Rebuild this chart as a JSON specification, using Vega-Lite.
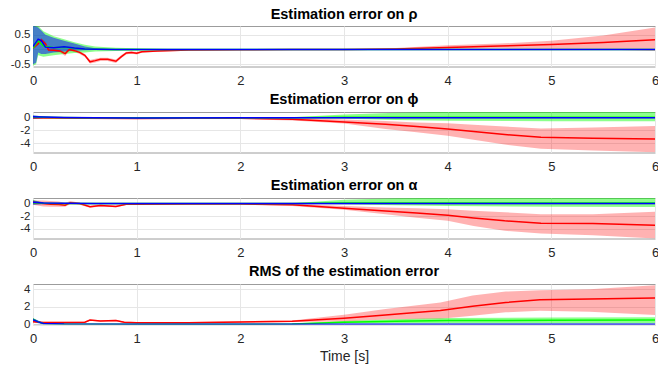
{
  "$schema": "https://vega.github.io/schema/vega-lite/v6.json",
  "padding": {"left": 2, "top": 6, "right": 0, "bottom": 0},
  "bounds": "flush",
  "spacing": 45,
  "config": {
    "font": "Liberation Sans",
    "view": {"stroke": "#9c9c9c", "strokeWidth": 1},
    "axis": {
      "labelFont": "Liberation Sans",
      "labelFontSize": 13,
      "labelColor": "#262626",
      "labelOverlap": false,
      "grid": true,
      "gridColor": "#e6e6e6",
      "domain": false,
      "ticks": false
    },
    "axisX": {"labelPadding": 8, "labelFlush": false, "titleFont": "Liberation Sans", "titleFontSize": 14, "titleFontWeight": "normal", "titleColor": "#262626", "titlePadding": 4},
    "axisY": {"labelPadding": 3, "labelFontSize": 11.5, "tickCount": 6, "minExtent": 30, "maxExtent": 30, "labelExpr": "toString(datum.value)"},
    "title": {"font": "Liberation Sans", "fontSize": 14.5, "fontWeight": "bold", "color": "#000000", "offset": 4, "anchor": "middle"},
    "line": {"strokeWidth": 1.5}
  },
  "datasets": {
    "err": [
      {"p": "rho", "s": "r", "t": 0, "m": 0.05, "lo": 0.0, "hi": 0.1},
      {"p": "rho", "s": "r", "t": 0.05, "m": 0.2, "lo": 0.14, "hi": 0.26},
      {"p": "rho", "s": "r", "t": 0.08, "m": 0.33, "lo": 0.27, "hi": 0.39},
      {"p": "rho", "s": "r", "t": 0.12, "m": 0.2, "lo": 0.14, "hi": 0.26},
      {"p": "rho", "s": "r", "t": 0.15, "m": -0.02, "lo": -0.07, "hi": 0.03},
      {"p": "rho", "s": "r", "t": 0.2, "m": -0.03, "lo": -0.08, "hi": 0.02},
      {"p": "rho", "s": "r", "t": 0.26, "m": -0.05, "lo": -0.1, "hi": 0.0},
      {"p": "rho", "s": "r", "t": 0.31, "m": -0.14, "lo": -0.22, "hi": -0.08},
      {"p": "rho", "s": "r", "t": 0.35, "m": 0.0, "lo": -0.05, "hi": 0.05},
      {"p": "rho", "s": "r", "t": 0.4, "m": -0.04, "lo": -0.09, "hi": 0.01},
      {"p": "rho", "s": "r", "t": 0.45, "m": -0.1, "lo": -0.15, "hi": -0.05},
      {"p": "rho", "s": "r", "t": 0.5, "m": -0.2, "lo": -0.26, "hi": -0.15},
      {"p": "rho", "s": "r", "t": 0.55, "m": -0.42, "lo": -0.48, "hi": -0.36},
      {"p": "rho", "s": "r", "t": 0.6, "m": -0.38, "lo": -0.44, "hi": -0.32},
      {"p": "rho", "s": "r", "t": 0.65, "m": -0.33, "lo": -0.39, "hi": -0.28},
      {"p": "rho", "s": "r", "t": 0.72, "m": -0.33, "lo": -0.39, "hi": -0.28},
      {"p": "rho", "s": "r", "t": 0.8, "m": -0.4, "lo": -0.46, "hi": -0.34},
      {"p": "rho", "s": "r", "t": 0.85, "m": -0.25, "lo": -0.3, "hi": -0.2},
      {"p": "rho", "s": "r", "t": 0.9, "m": -0.12, "lo": -0.17, "hi": -0.08},
      {"p": "rho", "s": "r", "t": 0.95, "m": -0.1, "lo": -0.14, "hi": -0.06},
      {"p": "rho", "s": "r", "t": 1.0, "m": -0.13, "lo": -0.17, "hi": -0.09},
      {"p": "rho", "s": "r", "t": 1.05, "m": -0.08, "lo": -0.11, "hi": -0.05},
      {"p": "rho", "s": "r", "t": 1.2, "m": -0.05, "lo": -0.08, "hi": -0.03},
      {"p": "rho", "s": "r", "t": 1.5, "m": -0.02, "lo": -0.04, "hi": 0.0},
      {"p": "rho", "s": "r", "t": 2, "m": -0.01, "lo": -0.02, "hi": 0.0},
      {"p": "rho", "s": "r", "t": 2.5, "m": 0, "lo": -0.01, "hi": 0.01},
      {"p": "rho", "s": "r", "t": 3, "m": 0, "lo": -0.01, "hi": 0.01},
      {"p": "rho", "s": "r", "t": 3.5, "m": 0.02, "lo": 0.0, "hi": 0.05},
      {"p": "rho", "s": "r", "t": 4, "m": 0.07, "lo": 0.02, "hi": 0.14},
      {"p": "rho", "s": "r", "t": 4.5, "m": 0.12, "lo": 0.03, "hi": 0.2},
      {"p": "rho", "s": "r", "t": 5, "m": 0.17, "lo": 0.02, "hi": 0.3},
      {"p": "rho", "s": "r", "t": 5.5, "m": 0.24, "lo": 0.0, "hi": 0.48},
      {"p": "rho", "s": "r", "t": 6, "m": 0.33, "lo": -0.05, "hi": 0.75},

      {"p": "rho", "s": "g", "t": 0, "m": 0.05, "lo": -0.55, "hi": 0.8},
      {"p": "rho", "s": "g", "t": 0.03, "m": 0.2, "lo": -0.5, "hi": 0.8},
      {"p": "rho", "s": "g", "t": 0.05, "m": 0.3, "lo": -0.2, "hi": 0.8},
      {"p": "rho", "s": "g", "t": 0.1, "m": 0.12, "lo": -0.25, "hi": 0.62},
      {"p": "rho", "s": "g", "t": 0.2, "m": 0.06, "lo": -0.2, "hi": 0.45},
      {"p": "rho", "s": "g", "t": 0.3, "m": 0.08, "lo": -0.15, "hi": 0.35},
      {"p": "rho", "s": "g", "t": 0.4, "m": 0.04, "lo": -0.12, "hi": 0.25},
      {"p": "rho", "s": "g", "t": 0.5, "m": 0.02, "lo": -0.1, "hi": 0.16},
      {"p": "rho", "s": "g", "t": 0.6, "m": 0.01, "lo": -0.07, "hi": 0.1},
      {"p": "rho", "s": "g", "t": 0.8, "m": 0.0, "lo": -0.05, "hi": 0.06},
      {"p": "rho", "s": "g", "t": 1.0, "m": 0, "lo": -0.04, "hi": 0.04},
      {"p": "rho", "s": "g", "t": 1.3, "m": 0, "lo": -0.02, "hi": 0.02},
      {"p": "rho", "s": "g", "t": 1.6, "m": 0, "lo": -0.01, "hi": 0.01},
      {"p": "rho", "s": "g", "t": 2, "m": 0, "lo": -0.005, "hi": 0.005},
      {"p": "rho", "s": "g", "t": 6, "m": 0, "lo": -0.005, "hi": 0.005},

      {"p": "rho", "s": "b", "t": 0, "m": 0.1, "lo": -0.5, "hi": 0.8},
      {"p": "rho", "s": "b", "t": 0.03, "m": 0.25, "lo": -0.45, "hi": 0.78},
      {"p": "rho", "s": "b", "t": 0.05, "m": 0.35, "lo": -0.1, "hi": 0.75},
      {"p": "rho", "s": "b", "t": 0.08, "m": 0.3, "lo": -0.15, "hi": 0.65},
      {"p": "rho", "s": "b", "t": 0.12, "m": 0.08, "lo": -0.15, "hi": 0.5},
      {"p": "rho", "s": "b", "t": 0.2, "m": 0.06, "lo": -0.1, "hi": 0.4},
      {"p": "rho", "s": "b", "t": 0.3, "m": 0.09, "lo": -0.07, "hi": 0.3},
      {"p": "rho", "s": "b", "t": 0.4, "m": 0.05, "lo": -0.04, "hi": 0.2},
      {"p": "rho", "s": "b", "t": 0.5, "m": 0.02, "lo": -0.03, "hi": 0.1},
      {"p": "rho", "s": "b", "t": 0.6, "m": 0.01, "lo": -0.02, "hi": 0.04},
      {"p": "rho", "s": "b", "t": 0.8, "m": 0, "lo": -0.01, "hi": 0.01},
      {"p": "rho", "s": "b", "t": 6, "m": 0, "lo": -0.005, "hi": 0.005},

      {"p": "phi", "s": "r", "t": 0, "m": 0, "lo": -0.1, "hi": 0.1},
      {"p": "phi", "s": "r", "t": 0.5, "m": -0.1, "lo": -0.18, "hi": -0.02},
      {"p": "phi", "s": "r", "t": 1, "m": -0.12, "lo": -0.2, "hi": -0.04},
      {"p": "phi", "s": "r", "t": 1.5, "m": -0.1, "lo": -0.18, "hi": -0.03},
      {"p": "phi", "s": "r", "t": 2, "m": -0.1, "lo": -0.2, "hi": -0.02},
      {"p": "phi", "s": "r", "t": 2.5, "m": -0.25, "lo": -0.45, "hi": -0.06},
      {"p": "phi", "s": "r", "t": 3, "m": -0.67, "lo": -0.92, "hi": -0.3},
      {"p": "phi", "s": "r", "t": 3.4, "m": -1.04, "lo": -1.8, "hi": -0.52},
      {"p": "phi", "s": "r", "t": 3.7, "m": -1.4, "lo": -2.3, "hi": -0.75},
      {"p": "phi", "s": "r", "t": 4, "m": -1.8, "lo": -2.85, "hi": -0.88},
      {"p": "phi", "s": "r", "t": 4.25, "m": -2.2, "lo": -3.5, "hi": -1.1},
      {"p": "phi", "s": "r", "t": 4.55, "m": -2.65, "lo": -4.25, "hi": -1.4},
      {"p": "phi", "s": "r", "t": 4.9, "m": -3.1, "lo": -4.9, "hi": -1.7},
      {"p": "phi", "s": "r", "t": 5.4, "m": -3.23, "lo": -5.2, "hi": -1.56},
      {"p": "phi", "s": "r", "t": 6, "m": -3.38, "lo": -5.47, "hi": -1.3},

      {"p": "phi", "s": "g", "t": 0, "m": 0.1, "lo": -0.15, "hi": 0.35},
      {"p": "phi", "s": "g", "t": 0.2, "m": 0.02, "lo": -0.05, "hi": 0.08},
      {"p": "phi", "s": "g", "t": 0.5, "m": 0, "lo": -0.03, "hi": 0.03},
      {"p": "phi", "s": "g", "t": 2, "m": 0, "lo": -0.03, "hi": 0.03},
      {"p": "phi", "s": "g", "t": 2.5, "m": 0.01, "lo": -0.03, "hi": 0.06},
      {"p": "phi", "s": "g", "t": 3, "m": 0.08, "lo": -0.15, "hi": 0.5},
      {"p": "phi", "s": "g", "t": 3.5, "m": 0.08, "lo": -0.35, "hi": 0.8},
      {"p": "phi", "s": "g", "t": 4, "m": 0.08, "lo": -0.5, "hi": 0.95},
      {"p": "phi", "s": "g", "t": 5, "m": 0.08, "lo": -0.55, "hi": 0.95},
      {"p": "phi", "s": "g", "t": 6, "m": 0.08, "lo": -0.56, "hi": 0.95},

      {"p": "phi", "s": "b", "t": 0, "m": 0.15, "lo": -0.2, "hi": 0.4},
      {"p": "phi", "s": "b", "t": 0.1, "m": 0.1, "lo": -0.05, "hi": 0.2},
      {"p": "phi", "s": "b", "t": 0.3, "m": 0.05, "lo": -0.02, "hi": 0.1},
      {"p": "phi", "s": "b", "t": 0.6, "m": 0.0, "lo": -0.03, "hi": 0.03},
      {"p": "phi", "s": "b", "t": 1, "m": -0.03, "lo": -0.05, "hi": 0.0},
      {"p": "phi", "s": "b", "t": 2, "m": 0, "lo": -0.02, "hi": 0.02},
      {"p": "phi", "s": "b", "t": 6, "m": 0, "lo": -0.02, "hi": 0.02},

      {"p": "alpha", "s": "r", "t": 0, "m": 0.2, "lo": -0.2, "hi": 0.5},
      {"p": "alpha", "s": "r", "t": 0.1, "m": 0.0, "lo": -0.45, "hi": 0.5},
      {"p": "alpha", "s": "r", "t": 0.17, "m": -0.1, "lo": -0.5, "hi": 0.4},
      {"p": "alpha", "s": "r", "t": 0.25, "m": -0.15, "lo": -0.5, "hi": 0.35},
      {"p": "alpha", "s": "r", "t": 0.31, "m": -0.25, "lo": -0.5, "hi": 0.1},
      {"p": "alpha", "s": "r", "t": 0.36, "m": 0.15, "lo": -0.1, "hi": 0.4},
      {"p": "alpha", "s": "r", "t": 0.45, "m": 0.0, "lo": -0.2, "hi": 0.15},
      {"p": "alpha", "s": "r", "t": 0.55, "m": -0.5, "lo": -0.65, "hi": -0.35},
      {"p": "alpha", "s": "r", "t": 0.65, "m": -0.3, "lo": -0.45, "hi": -0.15},
      {"p": "alpha", "s": "r", "t": 0.8, "m": -0.45, "lo": -0.6, "hi": -0.3},
      {"p": "alpha", "s": "r", "t": 0.9, "m": -0.1, "lo": -0.2, "hi": 0.0},
      {"p": "alpha", "s": "r", "t": 1.0, "m": -0.1, "lo": -0.18, "hi": -0.02},
      {"p": "alpha", "s": "r", "t": 1.5, "m": -0.05, "lo": -0.12, "hi": 0.0},
      {"p": "alpha", "s": "r", "t": 2, "m": -0.05, "lo": -0.12, "hi": 0.0},
      {"p": "alpha", "s": "r", "t": 2.5, "m": -0.2, "lo": -0.4, "hi": -0.02},
      {"p": "alpha", "s": "r", "t": 3, "m": -0.74, "lo": -1.0, "hi": -0.4},
      {"p": "alpha", "s": "r", "t": 3.4, "m": -1.17, "lo": -1.7, "hi": -0.64},
      {"p": "alpha", "s": "r", "t": 3.7, "m": -1.5, "lo": -2.25, "hi": -0.75},
      {"p": "alpha", "s": "r", "t": 4, "m": -1.86, "lo": -2.77, "hi": -0.9},
      {"p": "alpha", "s": "r", "t": 4.25, "m": -2.3, "lo": -3.6, "hi": -1.15},
      {"p": "alpha", "s": "r", "t": 4.55, "m": -2.77, "lo": -4.37, "hi": -1.4},
      {"p": "alpha", "s": "r", "t": 4.9, "m": -3.14, "lo": -4.8, "hi": -1.7},
      {"p": "alpha", "s": "r", "t": 5.4, "m": -3.2, "lo": -5.06, "hi": -1.7},
      {"p": "alpha", "s": "r", "t": 6, "m": -3.46, "lo": -5.6, "hi": -1.3},

      {"p": "alpha", "s": "g", "t": 0, "m": 0.15, "lo": -0.1, "hi": 0.6},
      {"p": "alpha", "s": "g", "t": 0.1, "m": 0.05, "lo": -0.05, "hi": 0.15},
      {"p": "alpha", "s": "g", "t": 0.3, "m": 0, "lo": -0.03, "hi": 0.03},
      {"p": "alpha", "s": "g", "t": 2, "m": 0, "lo": -0.03, "hi": 0.03},
      {"p": "alpha", "s": "g", "t": 2.5, "m": 0.01, "lo": -0.03, "hi": 0.06},
      {"p": "alpha", "s": "g", "t": 3, "m": 0.08, "lo": -0.1, "hi": 0.6},
      {"p": "alpha", "s": "g", "t": 3.5, "m": 0.08, "lo": -0.28, "hi": 0.85},
      {"p": "alpha", "s": "g", "t": 4, "m": 0.08, "lo": -0.4, "hi": 0.95},
      {"p": "alpha", "s": "g", "t": 5, "m": 0.08, "lo": -0.5, "hi": 0.95},
      {"p": "alpha", "s": "g", "t": 6, "m": 0.08, "lo": -0.55, "hi": 0.95},

      {"p": "alpha", "s": "b", "t": 0, "m": 0.2, "lo": -0.2, "hi": 0.5},
      {"p": "alpha", "s": "b", "t": 0.1, "m": 0.08, "lo": -0.05, "hi": 0.2},
      {"p": "alpha", "s": "b", "t": 0.3, "m": 0.05, "lo": 0.0, "hi": 0.1},
      {"p": "alpha", "s": "b", "t": 0.6, "m": 0.02, "lo": -0.02, "hi": 0.05},
      {"p": "alpha", "s": "b", "t": 1, "m": 0.0, "lo": -0.03, "hi": 0.03},
      {"p": "alpha", "s": "b", "t": 6, "m": 0.0, "lo": -0.02, "hi": 0.02},

      {"p": "rms", "s": "r", "t": 0, "m": 0.3, "lo": 0.22, "hi": 0.4},
      {"p": "rms", "s": "r", "t": 0.1, "m": 0.22, "lo": 0.15, "hi": 0.3},
      {"p": "rms", "s": "r", "t": 0.3, "m": 0.22, "lo": 0.15, "hi": 0.3},
      {"p": "rms", "s": "r", "t": 0.5, "m": 0.25, "lo": 0.18, "hi": 0.33},
      {"p": "rms", "s": "r", "t": 0.55, "m": 0.5, "lo": 0.42, "hi": 0.58},
      {"p": "rms", "s": "r", "t": 0.65, "m": 0.4, "lo": 0.32, "hi": 0.48},
      {"p": "rms", "s": "r", "t": 0.8, "m": 0.45, "lo": 0.37, "hi": 0.53},
      {"p": "rms", "s": "r", "t": 0.88, "m": 0.25, "lo": 0.18, "hi": 0.32},
      {"p": "rms", "s": "r", "t": 1, "m": 0.2, "lo": 0.14, "hi": 0.27},
      {"p": "rms", "s": "r", "t": 1.5, "m": 0.2, "lo": 0.14, "hi": 0.27},
      {"p": "rms", "s": "r", "t": 2, "m": 0.28, "lo": 0.2, "hi": 0.38},
      {"p": "rms", "s": "r", "t": 2.5, "m": 0.36, "lo": 0.27, "hi": 0.45},
      {"p": "rms", "s": "r", "t": 3, "m": 0.71, "lo": 0.34, "hi": 1.1},
      {"p": "rms", "s": "r", "t": 3.4, "m": 1.09, "lo": 0.56, "hi": 1.76},
      {"p": "rms", "s": "r", "t": 3.93, "m": 1.6, "lo": 0.64, "hi": 2.5},
      {"p": "rms", "s": "r", "t": 4.24, "m": 2.06, "lo": 1.0, "hi": 3.3},
      {"p": "rms", "s": "r", "t": 4.56, "m": 2.5, "lo": 1.38, "hi": 3.74},
      {"p": "rms", "s": "r", "t": 4.89, "m": 2.8, "lo": 1.57, "hi": 3.9},
      {"p": "rms", "s": "r", "t": 5.37, "m": 2.9, "lo": 1.46, "hi": 4.0},
      {"p": "rms", "s": "r", "t": 6, "m": 3.0, "lo": 1.09, "hi": 4.46},

      {"p": "rms", "s": "g", "t": 0, "m": 0.6, "lo": 0.45, "hi": 0.75},
      {"p": "rms", "s": "g", "t": 0.05, "m": 0.3, "lo": 0.2, "hi": 0.4},
      {"p": "rms", "s": "g", "t": 0.1, "m": 0.12, "lo": 0.05, "hi": 0.2},
      {"p": "rms", "s": "g", "t": 0.3, "m": 0.05, "lo": 0.02, "hi": 0.08},
      {"p": "rms", "s": "g", "t": 1, "m": 0.03, "lo": 0.01, "hi": 0.05},
      {"p": "rms", "s": "g", "t": 2, "m": 0.03, "lo": 0.01, "hi": 0.06},
      {"p": "rms", "s": "g", "t": 2.5, "m": 0.06, "lo": 0.02, "hi": 0.12},
      {"p": "rms", "s": "g", "t": 3, "m": 0.25, "lo": 0.1, "hi": 0.4},
      {"p": "rms", "s": "g", "t": 3.5, "m": 0.38, "lo": 0.12, "hi": 0.6},
      {"p": "rms", "s": "g", "t": 4, "m": 0.45, "lo": 0.12, "hi": 0.75},
      {"p": "rms", "s": "g", "t": 5, "m": 0.48, "lo": 0.12, "hi": 0.8},
      {"p": "rms", "s": "g", "t": 6, "m": 0.5, "lo": 0.12, "hi": 0.82},

      {"p": "rms", "s": "b", "t": 0, "m": 0.55, "lo": 0.35, "hi": 0.7},
      {"p": "rms", "s": "b", "t": 0.05, "m": 0.3, "lo": 0.15, "hi": 0.45},
      {"p": "rms", "s": "b", "t": 0.1, "m": 0.12, "lo": 0.05, "hi": 0.2},
      {"p": "rms", "s": "b", "t": 0.3, "m": 0.06, "lo": 0.03, "hi": 0.09},
      {"p": "rms", "s": "b", "t": 1, "m": 0.04, "lo": 0.02, "hi": 0.06},
      {"p": "rms", "s": "b", "t": 6, "m": 0.04, "lo": 0.02, "hi": 0.06}
    ]
  },
  "vconcat": [
    {
      "title": {"text": "Estimation error on ρ"},
      "width": 622, "height": 40.5,
      "data": {"name": "err"},
      "transform": [{"filter": "datum.p === 'rho'"}],
      "encoding": {"x": {"field": "t", "type": "quantitative", "title": null, "scale": {"domain": [0, 6]}, "axis": {"values": [0, 1, 2, 3, 4, 5, 6]}}},
      "layer": [
        {"transform": [{"filter": "datum.s === 'r'"}], "mark": {"type": "area", "color": "#ff0000", "opacity": 0.3, "clip": true},
         "encoding": {"y": {"field": "lo", "type": "quantitative", "title": null, "scale": {"domain": [-0.58, 0.8], "nice": false, "zero": false}, "axis": {"values": [-0.5, 0, 0.5], "tickCount": 6}}, "y2": {"field": "hi"}}},
        {"transform": [{"filter": "datum.s === 'g'"}], "mark": {"type": "area", "color": "#00ff00", "opacity": 0.45, "clip": true},
         "encoding": {"y": {"field": "lo", "type": "quantitative", "title": null}, "y2": {"field": "hi"}}},
        {"transform": [{"filter": "datum.s === 'b'"}], "mark": {"type": "area", "color": "#0000ff", "opacity": 0.5, "clip": true},
         "encoding": {"y": {"field": "lo", "type": "quantitative", "title": null}, "y2": {"field": "hi"}}},
        {"transform": [{"filter": "datum.s === 'r'"}], "mark": {"type": "line", "color": "#ff0000", "clip": true},
         "encoding": {"y": {"field": "m", "type": "quantitative", "title": null}}},
        {"transform": [{"filter": "datum.s === 'g'"}], "mark": {"type": "line", "color": "#00ff00", "clip": true},
         "encoding": {"y": {"field": "m", "type": "quantitative", "title": null}}},
        {"transform": [{"filter": "datum.s === 'b'"}], "mark": {"type": "line", "color": "#0000ff", "clip": true},
         "encoding": {"y": {"field": "m", "type": "quantitative", "title": null}}}
      ]
    },
    {
      "title": {"text": "Estimation error on ϕ"},
      "width": 622, "height": 40.5,
      "data": {"name": "err"},
      "transform": [{"filter": "datum.p === 'phi'"}],
      "encoding": {"x": {"field": "t", "type": "quantitative", "title": null, "scale": {"domain": [0, 6]}, "axis": {"values": [0, 1, 2, 3, 4, 5, 6]}}},
      "layer": [
        {"transform": [{"filter": "datum.s === 'r'"}], "mark": {"type": "area", "color": "#ff0000", "opacity": 0.3, "clip": true},
         "encoding": {"y": {"field": "lo", "type": "quantitative", "title": null, "scale": {"domain": [-5.5, 0.9], "nice": false, "zero": false}, "axis": {"values": [-4, -2, 0], "tickCount": 6}}, "y2": {"field": "hi"}}},
        {"transform": [{"filter": "datum.s === 'g'"}], "mark": {"type": "area", "color": "#00ff00", "opacity": 0.45, "clip": true},
         "encoding": {"y": {"field": "lo", "type": "quantitative", "title": null}, "y2": {"field": "hi"}}},
        {"transform": [{"filter": "datum.s === 'b'"}], "mark": {"type": "area", "color": "#0000ff", "opacity": 0.5, "clip": true},
         "encoding": {"y": {"field": "lo", "type": "quantitative", "title": null}, "y2": {"field": "hi"}}},
        {"transform": [{"filter": "datum.s === 'r'"}], "mark": {"type": "line", "color": "#ff0000", "clip": true},
         "encoding": {"y": {"field": "m", "type": "quantitative", "title": null}}},
        {"transform": [{"filter": "datum.s === 'g'"}], "mark": {"type": "line", "color": "#00ff00", "clip": true},
         "encoding": {"y": {"field": "m", "type": "quantitative", "title": null}}},
        {"transform": [{"filter": "datum.s === 'b'"}], "mark": {"type": "line", "color": "#0000ff", "clip": true},
         "encoding": {"y": {"field": "m", "type": "quantitative", "title": null}}}
      ]
    },
    {
      "title": {"text": "Estimation error on α"},
      "width": 622, "height": 40.5,
      "data": {"name": "err"},
      "transform": [{"filter": "datum.p === 'alpha'"}],
      "encoding": {"x": {"field": "t", "type": "quantitative", "title": null, "scale": {"domain": [0, 6]}, "axis": {"values": [0, 1, 2, 3, 4, 5, 6]}}},
      "layer": [
        {"transform": [{"filter": "datum.s === 'r'"}], "mark": {"type": "area", "color": "#ff0000", "opacity": 0.3, "clip": true},
         "encoding": {"y": {"field": "lo", "type": "quantitative", "title": null, "scale": {"domain": [-5.6, 0.9], "nice": false, "zero": false}, "axis": {"values": [-4, -2, 0], "tickCount": 6}}, "y2": {"field": "hi"}}},
        {"transform": [{"filter": "datum.s === 'g'"}], "mark": {"type": "area", "color": "#00ff00", "opacity": 0.45, "clip": true},
         "encoding": {"y": {"field": "lo", "type": "quantitative", "title": null}, "y2": {"field": "hi"}}},
        {"transform": [{"filter": "datum.s === 'b'"}], "mark": {"type": "area", "color": "#0000ff", "opacity": 0.5, "clip": true},
         "encoding": {"y": {"field": "lo", "type": "quantitative", "title": null}, "y2": {"field": "hi"}}},
        {"transform": [{"filter": "datum.s === 'r'"}], "mark": {"type": "line", "color": "#ff0000", "clip": true},
         "encoding": {"y": {"field": "m", "type": "quantitative", "title": null}}},
        {"transform": [{"filter": "datum.s === 'g'"}], "mark": {"type": "line", "color": "#00ff00", "clip": true},
         "encoding": {"y": {"field": "m", "type": "quantitative", "title": null}}},
        {"transform": [{"filter": "datum.s === 'b'"}], "mark": {"type": "line", "color": "#0000ff", "clip": true},
         "encoding": {"y": {"field": "m", "type": "quantitative", "title": null}}}
      ]
    },
    {
      "title": {"text": "RMS of the estimation error"},
      "width": 622, "height": 40.5,
      "data": {"name": "err"},
      "transform": [{"filter": "datum.p === 'rms'"}],
      "encoding": {"x": {"field": "t", "type": "quantitative", "title": "Time [s]", "scale": {"domain": [0, 6]}, "axis": {"values": [0, 1, 2, 3, 4, 5, 6]}}},
      "layer": [
        {"transform": [{"filter": "datum.s === 'r'"}], "mark": {"type": "area", "color": "#ff0000", "opacity": 0.3, "clip": true},
         "encoding": {"y": {"field": "lo", "type": "quantitative", "title": null, "scale": {"domain": [0, 4.6], "nice": false, "zero": false}, "axis": {"values": [0, 2, 4], "tickCount": 6}}, "y2": {"field": "hi"}}},
        {"transform": [{"filter": "datum.s === 'g'"}], "mark": {"type": "area", "color": "#00ff00", "opacity": 0.45, "clip": true},
         "encoding": {"y": {"field": "lo", "type": "quantitative", "title": null}, "y2": {"field": "hi"}}},
        {"transform": [{"filter": "datum.s === 'b'"}], "mark": {"type": "area", "color": "#0000ff", "opacity": 0.5, "clip": true},
         "encoding": {"y": {"field": "lo", "type": "quantitative", "title": null}, "y2": {"field": "hi"}}},
        {"transform": [{"filter": "datum.s === 'r'"}], "mark": {"type": "line", "color": "#ff0000", "clip": true},
         "encoding": {"y": {"field": "m", "type": "quantitative", "title": null}}},
        {"transform": [{"filter": "datum.s === 'g'"}], "mark": {"type": "line", "color": "#00ff00", "clip": true},
         "encoding": {"y": {"field": "m", "type": "quantitative", "title": null}}},
        {"transform": [{"filter": "datum.s === 'b'"}], "mark": {"type": "line", "color": "#0000ff", "clip": true},
         "encoding": {"y": {"field": "m", "type": "quantitative", "title": null}}}
      ]
    }
  ]
}
